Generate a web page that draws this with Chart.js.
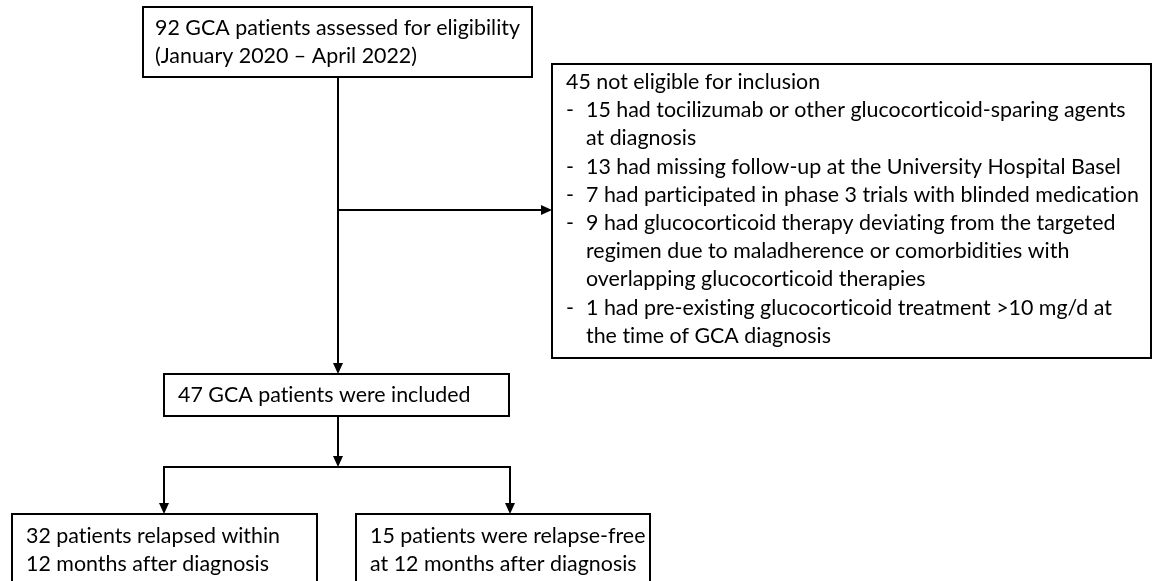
<!DOCTYPE html>
<html>
<head>
<meta charset="utf-8">
<script src="https://cdn.jsdelivr.net/npm/chart.js@4/dist/chart.umd.min.js"></script>
<style>
  html, body { margin: 0; padding: 0; background: #fff; }
  #flow { display: block; }
</style>
</head>
<body>
<canvas id="flow" width="1153" height="581"></canvas>
<script>
// --- Flow counts ---
const assessed = 92;
const period = "(January 2020 – April 2022)";
const notEligible = 45;
const exclusionCounts = [15, 13, 7, 9, 1];
const exclusionReasons = [
  ["had tocilizumab or other glucocorticoid-sparing agents", "at diagnosis"],
  ["had missing follow-up at the University Hospital Basel"],
  ["had participated in phase 3 trials with blinded medication"],
  ["had glucocorticoid therapy deviating from the targeted", "regimen due to maladherence or comorbidities with", "overlapping glucocorticoid therapies"],
  ["had pre-existing glucocorticoid treatment >10 mg/d at", "the time of GCA diagnosis"]
];
const included = 47;
const outcomeCounts = [32, 15];
const outcomeLabels = [
  ["patients relapsed within", "12 months after diagnosis"],
  ["patients were relapse-free", "at 12 months after diagnosis"]
];

// --- Layout (axis units = pixels of the original figure) ---
const boxes = {
  assessed:    { x0: 143, y0: 7,   x1: 532,  y1: 77,  tx: 155, ty: 28 },
  excluded:    { x0: 552, y0: 64,  x1: 1151, y1: 358, tx: 566, ty: 82, indent: 586 },
  included:    { x0: 164, y0: 374, x1: 509,  y1: 416, tx: 178, ty: 395 },
  relapsed:    { x0: 12,  y0: 514, x1: 317,  y1: 600, tx: 26,  ty: 536 },
  relapseFree: { x0: 356, y0: 514, x1: 650,  y1: 600, tx: 370, ty: 536 }
};
const lineGap = 28.2;
const mainX = 338, branchY = 467, leftX = 164, rightX = 510, sideY = 210;
const FONT = "21px Lato";

function boxLines() {
  const ex = [{ t: notEligible + " not eligible for inclusion", x: boxes.excluded.tx }];
  exclusionCounts.forEach((n, i) => {
    exclusionReasons[i].forEach((r, j) => {
      if (j === 0) ex.push({ t: n + " " + r, x: boxes.excluded.indent, dash: true });
      else ex.push({ t: r, x: boxes.excluded.indent });
    });
  });
  return {
    assessed: [assessed + " GCA patients assessed for eligibility", period],
    excluded: ex,
    included: [included + " GCA patients were included"],
    relapsed: [outcomeCounts[0] + " " + outcomeLabels[0][0], outcomeLabels[0][1]],
    relapseFree: [outcomeCounts[1] + " " + outcomeLabels[1][0], outcomeLabels[1][1]]
  };
}

// no ligatures (Lato joins "ti", "ft" etc.)
const noLig = s => s.replace(/([tf])(?=[itf])/g, "$1\u200C");

// --- Drawing plugin ---
const flowPlugin = {
  id: 'flow',
  afterDraw(chart) {
    const { ctx, scales: { x, y } } = chart;
    const px = v => Math.round(x.getPixelForValue(v));
    const py = v => Math.round(y.getPixelForValue(v));
    ctx.save();
    ctx.strokeStyle = "#000";
    ctx.fillStyle = "#000";
    ctx.lineWidth = 2;

    ctx.font = FONT;
    const sx = 365 / ctx.measureText(noLig(assessed + " GCA patients assessed for eligibility")).width;
    const text = (t, vx, vy) => {
      ctx.save();
      ctx.translate(px(vx), py(vy));
      ctx.scale(sx, 1);
      ctx.textBaseline = "middle";
      ctx.fillText(noLig(t), 0, 0);
      ctx.restore();
    };

    const lines = boxLines();
    Object.keys(boxes).forEach(k => {
      const b = boxes[k];
      ctx.fillStyle = "#fff";
      ctx.fillRect(px(b.x0), py(b.y0), px(b.x1) - px(b.x0), py(b.y1) - py(b.y0));
      ctx.fillStyle = "#000";
      ctx.strokeRect(px(b.x0), py(b.y0), px(b.x1) - px(b.x0), py(b.y1) - py(b.y0));
      lines[k].forEach((ln, i) => {
        const vy = b.ty + i * lineGap;
        if (typeof ln === "string") text(ln, b.tx, vy);
        else {
          if (ln.dash) text("-", b.tx, vy);
          text(ln.t, ln.x, vy);
        }
      });
    });

    const seg = (x0, y0, x1, y1) => {
      ctx.beginPath();
      ctx.moveTo(px(x0), py(y0));
      ctx.lineTo(px(x1), py(y1));
      ctx.stroke();
    };
    const arrow = (x0, y0, x1, y1) => {
      const L = 11, W = 5;
      const dx = Math.sign(x1 - x0), dy = Math.sign(y1 - y0);
      seg(x0, y0, x1 - dx * L, y1 - dy * L);
      const tx = px(x1), ty = py(y1);
      ctx.beginPath();
      ctx.moveTo(tx, ty);
      ctx.lineTo(tx - dx * L - dy * W, ty - dy * L - dx * W);
      ctx.lineTo(tx - dx * L + dy * W, ty - dy * L + dx * W);
      ctx.closePath();
      ctx.fill();
    };

    arrow(mainX, boxes.assessed.y1, mainX, boxes.included.y0);
    arrow(mainX, sideY, boxes.excluded.x0, sideY);
    arrow(mainX, boxes.included.y1, mainX, branchY);
    seg(leftX - 1, branchY, rightX + 1, branchY);
    arrow(leftX, branchY, leftX, boxes.relapsed.y0);
    arrow(rightX, branchY, rightX, boxes.relapseFree.y0);
    ctx.restore();
  }
};

new Chart(document.getElementById("flow"), {
  type: 'scatter',
  data: { datasets: [] },
  options: {
    responsive: false,
    animation: false,
    devicePixelRatio: 1,
    layout: { padding: 0 },
    plugins: { legend: { display: false }, tooltip: { enabled: false } },
    scales: {
      x: { type: 'linear', min: 0, max: 1153, display: false },
      y: { type: 'linear', min: 0, max: 581, reverse: true, display: false }
    }
  },
  plugins: [flowPlugin]
});
</script>
</body>
</html>
